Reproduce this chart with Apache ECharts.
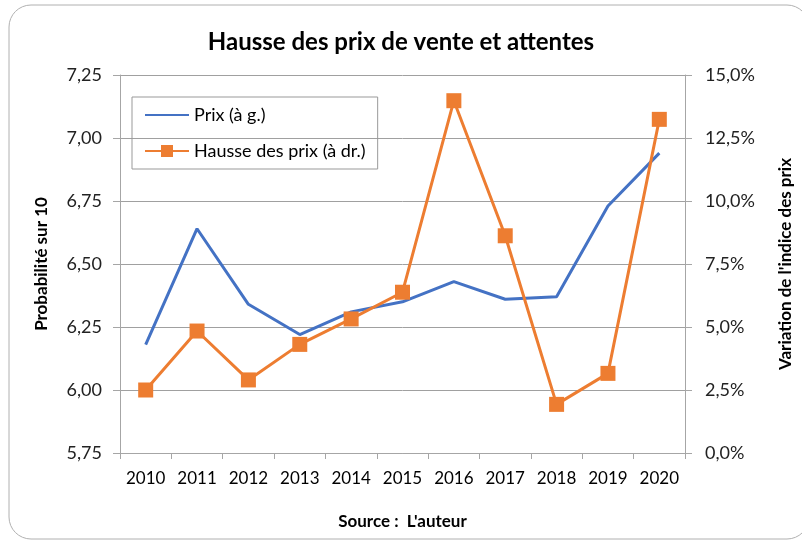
<!DOCTYPE html>
<html>
<head>
<meta charset="utf-8">
<script src="https://cdn.jsdelivr.net/npm/echarts@6/dist/echarts.min.js"></script>
<style>
  html, body { margin: 0; padding: 0; background: #fff; }
  #chart { width: 802px; height: 542px; }
</style>
</head>
<body>
<div id="chart"></div>
<script>
// données
var annees = ['2010', '2011', '2012', '2013', '2014', '2015', '2016', '2017', '2018', '2019', '2020'];
var prix = [6.18, 6.64, 6.34, 6.22, 6.31, 6.35, 6.43, 6.36, 6.37, 6.73, 6.94];
var haussePrix = [2.5, 4.84, 2.9, 4.31, 5.32, 6.38, 13.98, 8.62, 1.93, 3.16, 13.24];

var police = 'Lato, "Noto Sans", sans-serif';
var gris = '#a6a6a6';

var chart = echarts.init(document.getElementById('chart'));
chart.setOption({
  animation: false,
  textStyle: { fontFamily: police },
  graphic: [{
    type: 'rect',
    shape: { x: 9, y: 5, width: 800, height: 534, r: 22 },
    style: { fill: null, stroke: '#b0b0b0', lineWidth: 1 }
  }],
  title: {
    text: 'Hausse des prix de vente et attentes',
    left: 'center',
    top: 25,
    textStyle: { fontFamily: police, fontSize: 24, fontWeight: 'bold', color: '#000' }
  },
  legend: {
    orient: 'vertical',
    left: 132,
    top: 97,
    padding: [9, 12, 9, 12],
    itemGap: 18,
    itemWidth: 44,
    itemHeight: 15,
    borderColor: '#999',
    borderWidth: 1,
    textStyle: { fontFamily: police, fontSize: 18, color: '#000' },
    data: [
      { name: 'Prix (à g.)', itemStyle: { opacity: 0 } },
      'Hausse des prix (à dr.)'
    ]
  },
  grid: { left: 120, right: 109, top: 75, bottom: 89 },
  xAxis: {
    type: 'category',
    data: annees,
    name: 'Source :  L\'auteur',
    nameLocation: 'middle',
    nameGap: 60,
    nameTextStyle: { fontFamily: police, fontSize: 17, fontWeight: 'bold', color: '#000' },
    axisLine: { lineStyle: { color: gris } },
    axisTick: { show: true, interval: 0, length: 6, lineStyle: { color: gris } },
    axisLabel: { interval: 0, fontSize: 17, color: '#000', margin: 17 }
  },
  yAxis: [{
    type: 'value',
    min: 5.75,
    max: 7.25,
    interval: 0.25,
    name: 'Probabilité sur 10',
    nameLocation: 'middle',
    nameGap: 70,
    nameTextStyle: { fontFamily: police, fontSize: 17, fontWeight: 'bold', color: '#000' },
    axisLine: { show: true, lineStyle: { color: gris } },
    axisTick: { show: true, length: 7, lineStyle: { color: gris } },
    splitLine: { lineStyle: { color: '#a0a0a0' } },
    axisLabel: {
      fontSize: 18, color: '#222', margin: 18,
      formatter: function (v) { return v.toFixed(2).replace('.', ','); }
    }
  }, {
    type: 'value',
    min: 0,
    max: 15,
    interval: 2.5,
    name: 'Variation de l\'indice des prix',
    nameLocation: 'middle',
    nameGap: 92,
    nameTextStyle: { fontFamily: police, fontSize: 17, fontWeight: 'bold', color: '#000' },
    axisLine: { show: true, lineStyle: { color: gris } },
    axisTick: { show: true, length: 7, lineStyle: { color: gris } },
    splitLine: { show: false },
    axisLabel: {
      fontSize: 18, color: '#222', margin: 20,
      formatter: function (v) { return v.toFixed(1).replace('.', ',') + '%'; }
    }
  }],
  series: [{
    name: 'Prix (à g.)',
    type: 'line',
    yAxisIndex: 0,
    data: prix,
    symbol: 'none',
    lineStyle: { color: '#4472C4', width: 3 },
    itemStyle: { color: '#4472C4' }
  }, {
    name: 'Hausse des prix (à dr.)',
    type: 'line',
    yAxisIndex: 1,
    data: haussePrix,
    symbol: 'rect',
    symbolSize: 15,
    lineStyle: { color: '#ED7D31', width: 3 },
    itemStyle: { color: '#ED7D31' }
  }]
});
</script>
</body>
</html>
